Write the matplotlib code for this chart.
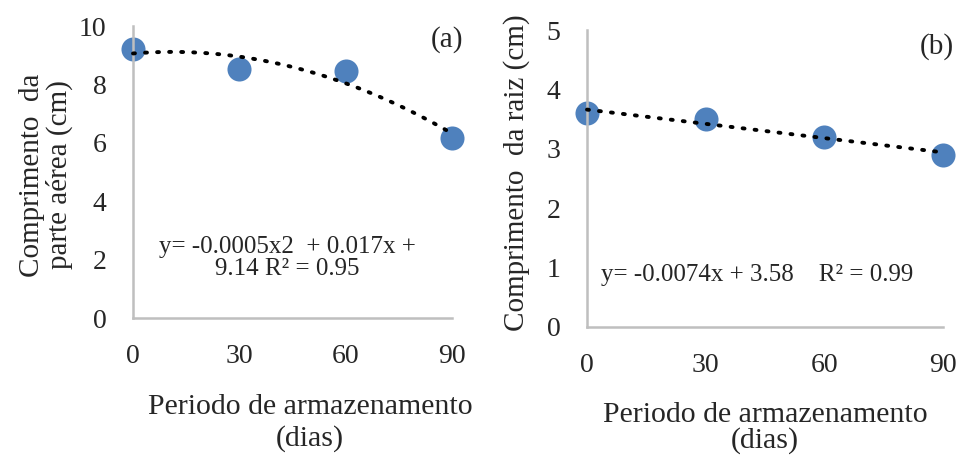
import numpy as np
import matplotlib.pyplot as plt

plt.rcParams['font.family'] = ['Liberation Serif', 'DejaVu Serif']

# storage period (days)
dias = [0, 30, 60, 90]
# shoot length (cm) - panel (a)
parte_aerea = [9.2, 8.53, 8.46, 6.18]
# root length (cm) - panel (b)
raiz = [3.6, 3.5, 3.2, 2.9]

eq_a = "y= -0.0005x2  + 0.017x +\n9.14 R\u00b2 = 0.95"
eq_b = "y= -0.0074x + 3.58    R\u00b2 = 0.99"
xlab = "Periodo de armazenamento\n(dias)"

blue = '#4f81bd'
grey = '#bfbfbf'
txt = '#262626'
W, H = 959, 457

fig = plt.figure(figsize=(9.59, 4.57), dpi=100)


def px_axes(x0, x1, y_top, y_bot):
    return fig.add_axes([x0 / W, (H - y_bot) / H, (x1 - x0) / W, (y_bot - y_top) / H])


def ftext(x, y, s, **kw):
    # place text in reference pixel coordinates
    return fig.text(x / W, 1 - y / H, s, ha='center', va='center', color=txt, **kw)


def style(ax, ymax, xpad, ypad):
    for s in ['top', 'right']:
        ax.spines[s].set_visible(False)
    for s in ['left', 'bottom']:
        ax.spines[s].set_color(grey)
        ax.spines[s].set_linewidth(1.8)
    ax.set_xlim(0, 90)
    ax.set_ylim(0, ymax)
    ax.set_xticks(dias)
    ax.tick_params(length=0, labelsize=20, colors=txt)
    ax.tick_params(axis='x', pad=xpad)
    ax.tick_params(axis='y', pad=ypad)


xs = np.linspace(0, 90, 200)

# panel (a)
ax1 = px_axes(133, 452, 26, 318)
style(ax1, 10, 19, 19)
ax1.set_yticks([0, 2, 4, 6, 8, 10])
coef_a = np.polyfit(dias, parte_aerea, 2)
ax1.plot(xs, np.polyval(coef_a, xs), color='black', linestyle=(0, (0.5, 2.6)),
         linewidth=2.8, dash_capstyle='round', zorder=3, clip_on=False)
ax1.scatter(dias, parte_aerea, s=300, color=blue, zorder=2, clip_on=False, linewidths=0)
ftext(46, 175, "Comprimento  da\nparte a\u00e9rea (cm)", fontsize=21, rotation=90,
      linespacing=1.0)
ftext(310, 423, xlab, fontsize=21.5, linespacing=1.25)
ftext(287, 258, eq_a, fontsize=18, linespacing=1.05)
ftext(447, 40, "(a)", fontsize=21)

# panel (b)
ax2 = px_axes(587, 943, 30, 327)
style(ax2, 5, 19, 19)
ax2.set_yticks([0, 1, 2, 3, 4, 5])
coef_b = np.polyfit(dias, raiz, 1)
ax2.plot(xs, np.polyval(coef_b, xs), color='black', linestyle=(0, (0.5, 2.6)),
         linewidth=2.8, dash_capstyle='round', zorder=3, clip_on=False)
ax2.scatter(dias, raiz, s=300, color=blue, zorder=2, clip_on=False, linewidths=0)
ftext(517, 173, "Comprimento  da raiz (cm)", fontsize=21, rotation=90)
ftext(765, 428, xlab, fontsize=21.5, linespacing=1.0)
ftext(757, 275, eq_b, fontsize=18)
ftext(937, 47, "(b)", fontsize=21)

fig.savefig('out.png', dpi=100)
